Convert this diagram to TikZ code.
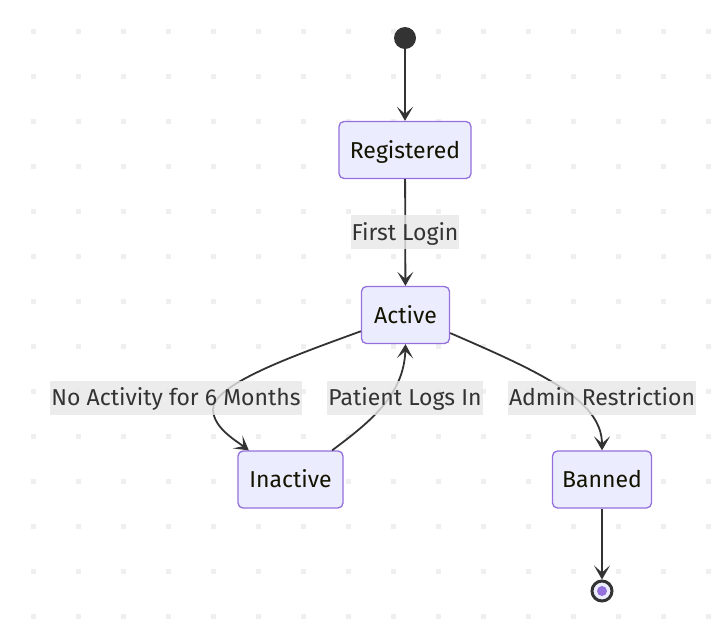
\documentclass[tikz,border=0pt]{standalone}
\usepackage{fontspec}
\setmainfont{Fira Sans}
\usetikzlibrary{arrows.meta}
\definecolor{nodefill}{HTML}{ECECFF}
\definecolor{nodeborder}{HTML}{9370DB}
\definecolor{edgecol}{HTML}{333333}
\definecolor{labelbg}{HTML}{E8E8E8}
\definecolor{dotcol}{HTML}{EFEFEF}
\definecolor{nodetext}{HTML}{131300}
\begin{document}
\begin{tikzpicture}[x=1pt,y=-1pt,
  state/.style={draw=nodeborder, fill=nodefill, line width=1.3pt, rounded corners=5pt,
    minimum height=57pt, inner xsep=4pt, inner ysep=0pt, text height=16pt, text depth=0pt,
    text=nodetext, font=\fontsize{23}{27}\selectfont},
  elabel/.style={fill=labelbg, fill opacity=0.8, text opacity=1, text=edgecol,
    minimum height=34pt, inner xsep=1pt, inner ysep=0pt, text height=16pt, text depth=0pt,
    font=\fontsize{23}{27}\selectfont},
  trans/.style={draw=edgecol, line width=1.8pt, -{Stealth[length=14pt,width=16pt,inset=7pt]}},
]
\useasboundingbox (0,0) rectangle (720,625);
\fill[white] (0,0) rectangle (720,625);
\foreach \i in {0,...,15} \foreach \j in {0,...,13}
  \fill[dotcol] (31+45*\i, 29+45*\j) rectangle ++(5,5);

\node[circle, fill=edgecol, minimum size=22pt, inner sep=0pt] (start) at (405,38) {};
\node[state, minimum width=132pt] (reg) at (405,150) {Registered};
\node[state, minimum width=88pt] (act) at (405.5,315) {Active};
\node[state, minimum width=105pt] (ina) at (290.5,479.5) {Inactive};
\node[state, minimum width=99pt] (ban) at (602,479.5) {Banned};
\node[circle, draw=edgecol, line width=3pt, fill=nodefill, minimum size=20pt, inner sep=0pt] (end) at (602,591) {};
\node[circle, fill=nodeborder, minimum size=10pt, inner sep=0pt] (endin) at (end) {};

\draw[trans] (start) -- (reg);
\draw[trans] (reg) -- (act);
\draw[trans] (act.200) .. controls (290,357) and (212,385) .. (213,410)
  .. controls (214,428) and (235,440) .. (ina.145);
\draw[trans] (ina.35) .. controls (370,422) and (404,395) .. (act.south);
\draw[trans] (act.-22) .. controls (540,372) and (602,400) .. (ban.north);
\draw[trans] (ban) -- (end);

\node[elabel] (l1) at (405,232) {First Login};
\node[elabel] (l2) at (176,397.5) {No Activity for 6 Months};
\node[elabel] (l3) at (405,397.5) {Patient Logs In};
\node[elabel] (l4) at (602,397.5) {Admin Restriction};
\end{tikzpicture}
\end{document}
